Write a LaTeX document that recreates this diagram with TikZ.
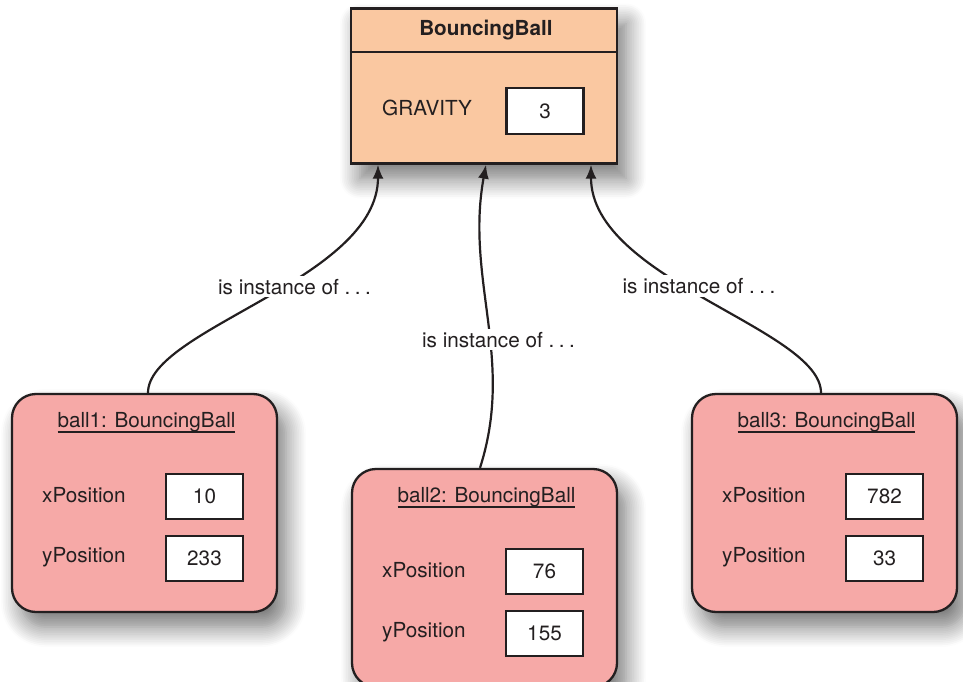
\documentclass[tikz,border=0pt]{standalone}
\usepackage{fontspec}
\setmainfont{TeX Gyre Heros}
\usepackage{tikz}
\usetikzlibrary{arrows.meta,positioning,shadows.blur}
\definecolor{bbpeach}{HTML}{FAC8A1}
\definecolor{bbpink}{HTML}{F6A9A7}
\definecolor{bbink}{HTML}{231F20}
\newsavebox\objbox
\newcommand{\objtitle}[1]{\sbox\objbox{#1}\rlap{\rule[-6pt]{\wd\objbox}{1.8pt}}\usebox\objbox}
\newcommand{\isinst}{is instance of .\kern4.5pt.\kern4.5pt.}
\tikzset{
  cls/.style={draw=bbink,fill=bbpeach,line width=2.3pt,minimum width=266pt,minimum height=155pt,
    blur shadow={shadow xshift=9pt,shadow yshift=-15pt,shadow blur radius=20pt,shadow opacity=55,
      shadow blur steps=12}},
  obj/.style={cls,fill=bbpink,rounded corners=24pt,minimum width=265pt,minimum height=218pt},
  val/.style={draw=bbink,fill=white,text=bbink,line width=2.3pt,minimum width=77pt,minimum height=45pt},
  fld/.style={anchor=base west,text=bbink,inner sep=0pt},
  ttl/.style={anchor=base,text=bbink,inner sep=0pt},
  lbl/.style={anchor=base,fill=white,text=bbink,inner sep=3pt},
  inst/.style={-{Latex[length=14pt,width=11pt]},line width=2.2pt,draw=bbink},
}

\begin{document}
\begin{tikzpicture}[x=1pt,y=-1pt,font=\fontsize{20.7}{24}\selectfont]
\useasboundingbox (0,0) rectangle (963,682);
% class
\node[cls] (cls) at (484,86) {};
\draw[line width=2.3pt,draw=bbink] ([yshift=-44.5pt]cls.north west) -- ([yshift=-44.5pt]cls.north east);
\node[ttl] (clsname) at (486,36) {\bfseries BouncingBall};
\node[fld] (grav) at (382,116) {GRAVITY};
\node[val,minimum height=46pt] (gval) at (545,111) {3};
% objects
\node[obj] (ball1) at (144.5,503) {};
\node[ttl] (t1) at (146.5,427) {\objtitle{ball1: BouncingBall}};
\node[fld] (xp1) at (42,502) {xPosition};
\node[val] (x1) at (204.5,496.5) {10};
\node[fld] (yp1) at (42,562) {yPosition};
\node[val,below=15pt of x1] (y1) {233};
\node[obj] (ball2) at (484.5,578) {};
\node[ttl] (t2) at (486.5,502) {\objtitle{ball2: BouncingBall}};
\node[fld] (xp2) at (382,577) {xPosition};
\node[val] (x2) at (544.5,571.5) {76};
\node[fld] (yp2) at (382,637) {yPosition};
\node[val,below=15pt of x2] (y2) {155};
\node[obj] (ball3) at (824.5,503) {};
\node[ttl] (t3) at (826.5,427) {\objtitle{ball3: BouncingBall}};
\node[fld] (xp3) at (722,502) {xPosition};
\node[val] (x3) at (884.5,496.5) {782};
\node[fld] (yp3) at (722,562) {yPosition};
\node[val,below=15pt of x3] (y3) {33};
% instance-of links
\draw[inst] ([xshift=3.5]ball1.north) .. controls +(0,-64) and +(0,115) .. ([xshift=-106]cls.south);
\draw[inst] ([xshift=-4.5]ball2.north) .. controls +(35,-109) and +(-21,115) .. ([xshift=2]cls.south);
\draw[inst] ([xshift=-3.5]ball3.north) .. controls +(0,-64) and +(0,115) .. ([xshift=107]cls.south);
\node[lbl] (l1) at (294.5,294) {\isinst};
\node[lbl] (l2) at (498.5,347) {\isinst};
\node[lbl] (l3) at (699,293.5) {\isinst};
\end{tikzpicture}
\end{document}
